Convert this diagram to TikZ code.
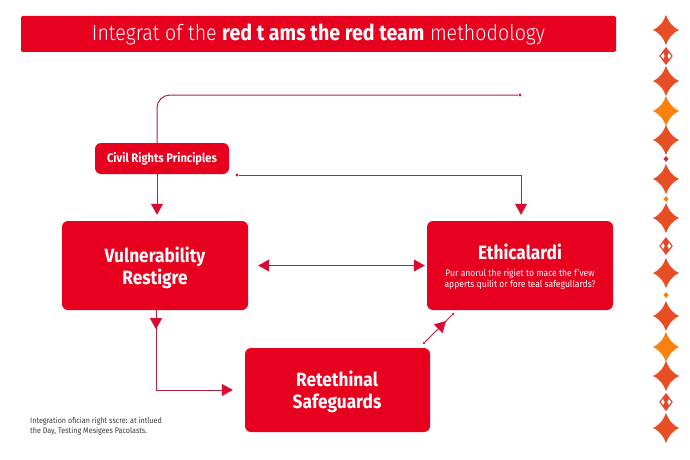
\documentclass[tikz,border=0pt]{standalone}
\usepackage{fontspec}
\setmainfont{Fira Sans}[FakeStretch=0.9]
\newfontfamily\lightfont{Fira Sans Light}[FakeStretch=0.9]
\usetikzlibrary{arrows.meta,decorations.markings}
\definecolor{boxred}{HTML}{E8001F}
\definecolor{linered}{HTML}{B8203F}
\definecolor{tipred}{HTML}{DB0A30}
\definecolor{starred}{HTML}{E84E24}
\definecolor{starorange}{HTML}{F9820F}
\definecolor{footgray}{HTML}{3A3A3A}
\tikzset{
  x=1pt,y=-1pt,
  redbox/.style={fill=boxred,rounded corners=6pt,inner sep=0pt,text=white,align=center},
  conn/.style={draw=linered,line width=1pt},
  tipped/.style={-{Triangle[width=12pt,length=11pt,fill=tipred,color=tipred]}},
  bothtipped/.style={{Triangle[width=12pt,length=11pt,fill=tipred,color=tipred]}-{Triangle[width=12pt,length=11pt,fill=tipred,color=tipred]}},
  dotend/.style={circle,fill=linered,inner sep=0pt,minimum size=3.2pt},
  heading/.style={font=\fontsize{19.2}{21.8}\selectfont\bfseries,text=white,align=center,inner sep=0pt},
}
\newcommand{\bigstar}[3]{\fill[#3] (#1+13,#2) .. controls (#1+5,#2+4) and (#1+3,#2+8) .. (#1,#2+15) .. controls (#1-3,#2+8) and (#1-5,#2+4) .. (#1-13,#2) .. controls (#1-5,#2-4) and (#1-3,#2-8) .. (#1,#2-15) .. controls (#1+3,#2-8) and (#1+5,#2-4) .. (#1+13,#2) -- cycle;}
\newcommand{\smalldia}[3]{\fill[#3] (#1+2.6,#2) -- (#1,#2+2.8) -- (#1-2.6,#2) -- (#1,#2-2.8) -- cycle;}
\newcommand{\hollowdia}[2]{%
  \fill[starred!85!linered] (#1+6.8,#2) -- (#1,#2+9) -- (#1-6.8,#2) -- (#1,#2-9) -- cycle;
  \fill[white] (#1+5.2,#2) -- (#1+2.8,#2+3) -- (#1+1.4,#2) -- (#1+2.8,#2-3) -- cycle;
  \fill[white] (#1-5.2,#2) -- (#1-2.8,#2+3) -- (#1-1.4,#2) -- (#1-2.8,#2-3) -- cycle;}
\begin{document}
\begin{tikzpicture}
\useasboundingbox (0,0) rectangle (690,460);
% title
\node[redbox,rounded corners=2pt,minimum width=595pt,minimum height=36pt] (title) at (318.5,34)
  {\fontsize{21.8}{25}\selectfont{\lightfont Integrat of the }\textbf{red t ams the red team}{\lightfont\ methodology}};
% boxes
\node[redbox,minimum width=134pt,minimum height=31pt,font=\fontsize{12.4}{14}\selectfont\bfseries] (civil) at (162,158.5) {Civil Rights Principles};
\node[redbox,minimum width=186pt,minimum height=89pt] (vuln) at (155,265.5) {};
\node[heading] (vulntext) at (155,267.5) {Vulnerability\\Restigre};
\node[redbox,minimum width=186pt,minimum height=89pt] (ethic) at (520,265.5) {};
\node[heading] (ethictext) at (520,252) {Ethicalardi};
\node[text=white,align=center,inner sep=0pt,font=\fontsize{9.5}{11.5}\selectfont] (ethicsub) at (520,279.5)
  {Pur anorul the rigiet to mace the f'vew\\apperts quilit or fore teal safegullards?};
\node[redbox,minimum width=185pt,minimum height=84pt] (safe) at (337.5,390) {};
\node[heading] (safetext) at (337,391.5) {Retethinal\\Safeguards};
\node[anchor=north west,inner sep=0pt,text=footgray,align=left,font=\fontsize{8}{9.7}\selectfont] (foot) at (30,417.5)
  {Integration ofician right sscre: at intlued\\the Day, Testing Mesigees Pacolasts.};
% free ends
\coordinate (ax) at (157,0);
\coordinate (bx) at (521,0);
\node[dotend] (topdot) at (520,95) {};
\node[dotend] (middot) at (237,175) {};
\coordinate (vx) at (156,0);
\node[dotend,minimum size=2.6pt] (da) at (424,343) {};
\node[dotend,minimum size=2.6pt] (db) at (453,314) {};
% connectors
\draw[conn,rounded corners=13pt] (civil.north -| ax) -- (ax |- topdot) -- (topdot);
\draw[conn,tipped,shorten >=6pt] (civil.south -| ax) -- (vuln.north -| ax);
\draw[conn,tipped,shorten >=6pt] (middot) -- (bx |- middot) -- (ethic.north -| bx);
\draw[conn,bothtipped,shorten >=2pt,shorten <=10pt] (vuln.east) -- (ethic.west);
\draw[conn,tipped,shorten >=12pt,
  postaction={decorate,decoration={markings,mark=at position 19pt with {\arrow{Triangle[width=12pt,length=11pt,fill=tipred,color=tipred]}}}}]
  (vuln.south -| vx) -- (vx |- safe.west) -- (safe.west);
\draw[conn,
  postaction={decorate,decoration={markings,mark=at position 0.78 with {\arrow{Triangle[width=12pt,length=11pt,fill=tipred,color=tipred]}}}}]
  (da) -- (db);
% ornaments
\bigstar{666}{30}{starred}
\hollowdia{666}{56}
\bigstar{666}{81}{starred}
\bigstar{666}{111}{starorange}
\bigstar{666}{140}{starred}
\smalldia{666}{159}{linered!70!starred}
\bigstar{666}{179}{starred}
\smalldia{666}{199}{starorange}
\bigstar{666}{218}{starred}
\hollowdia{666}{246}
\bigstar{666}{273}{starred}
\smalldia{666}{295}{starorange}
\bigstar{666}{316}{starred}
\bigstar{666}{347}{starorange}
\bigstar{666}{376}{starred}
\hollowdia{666}{402}
\bigstar{666}{428}{starred}
\end{tikzpicture}
\end{document}
